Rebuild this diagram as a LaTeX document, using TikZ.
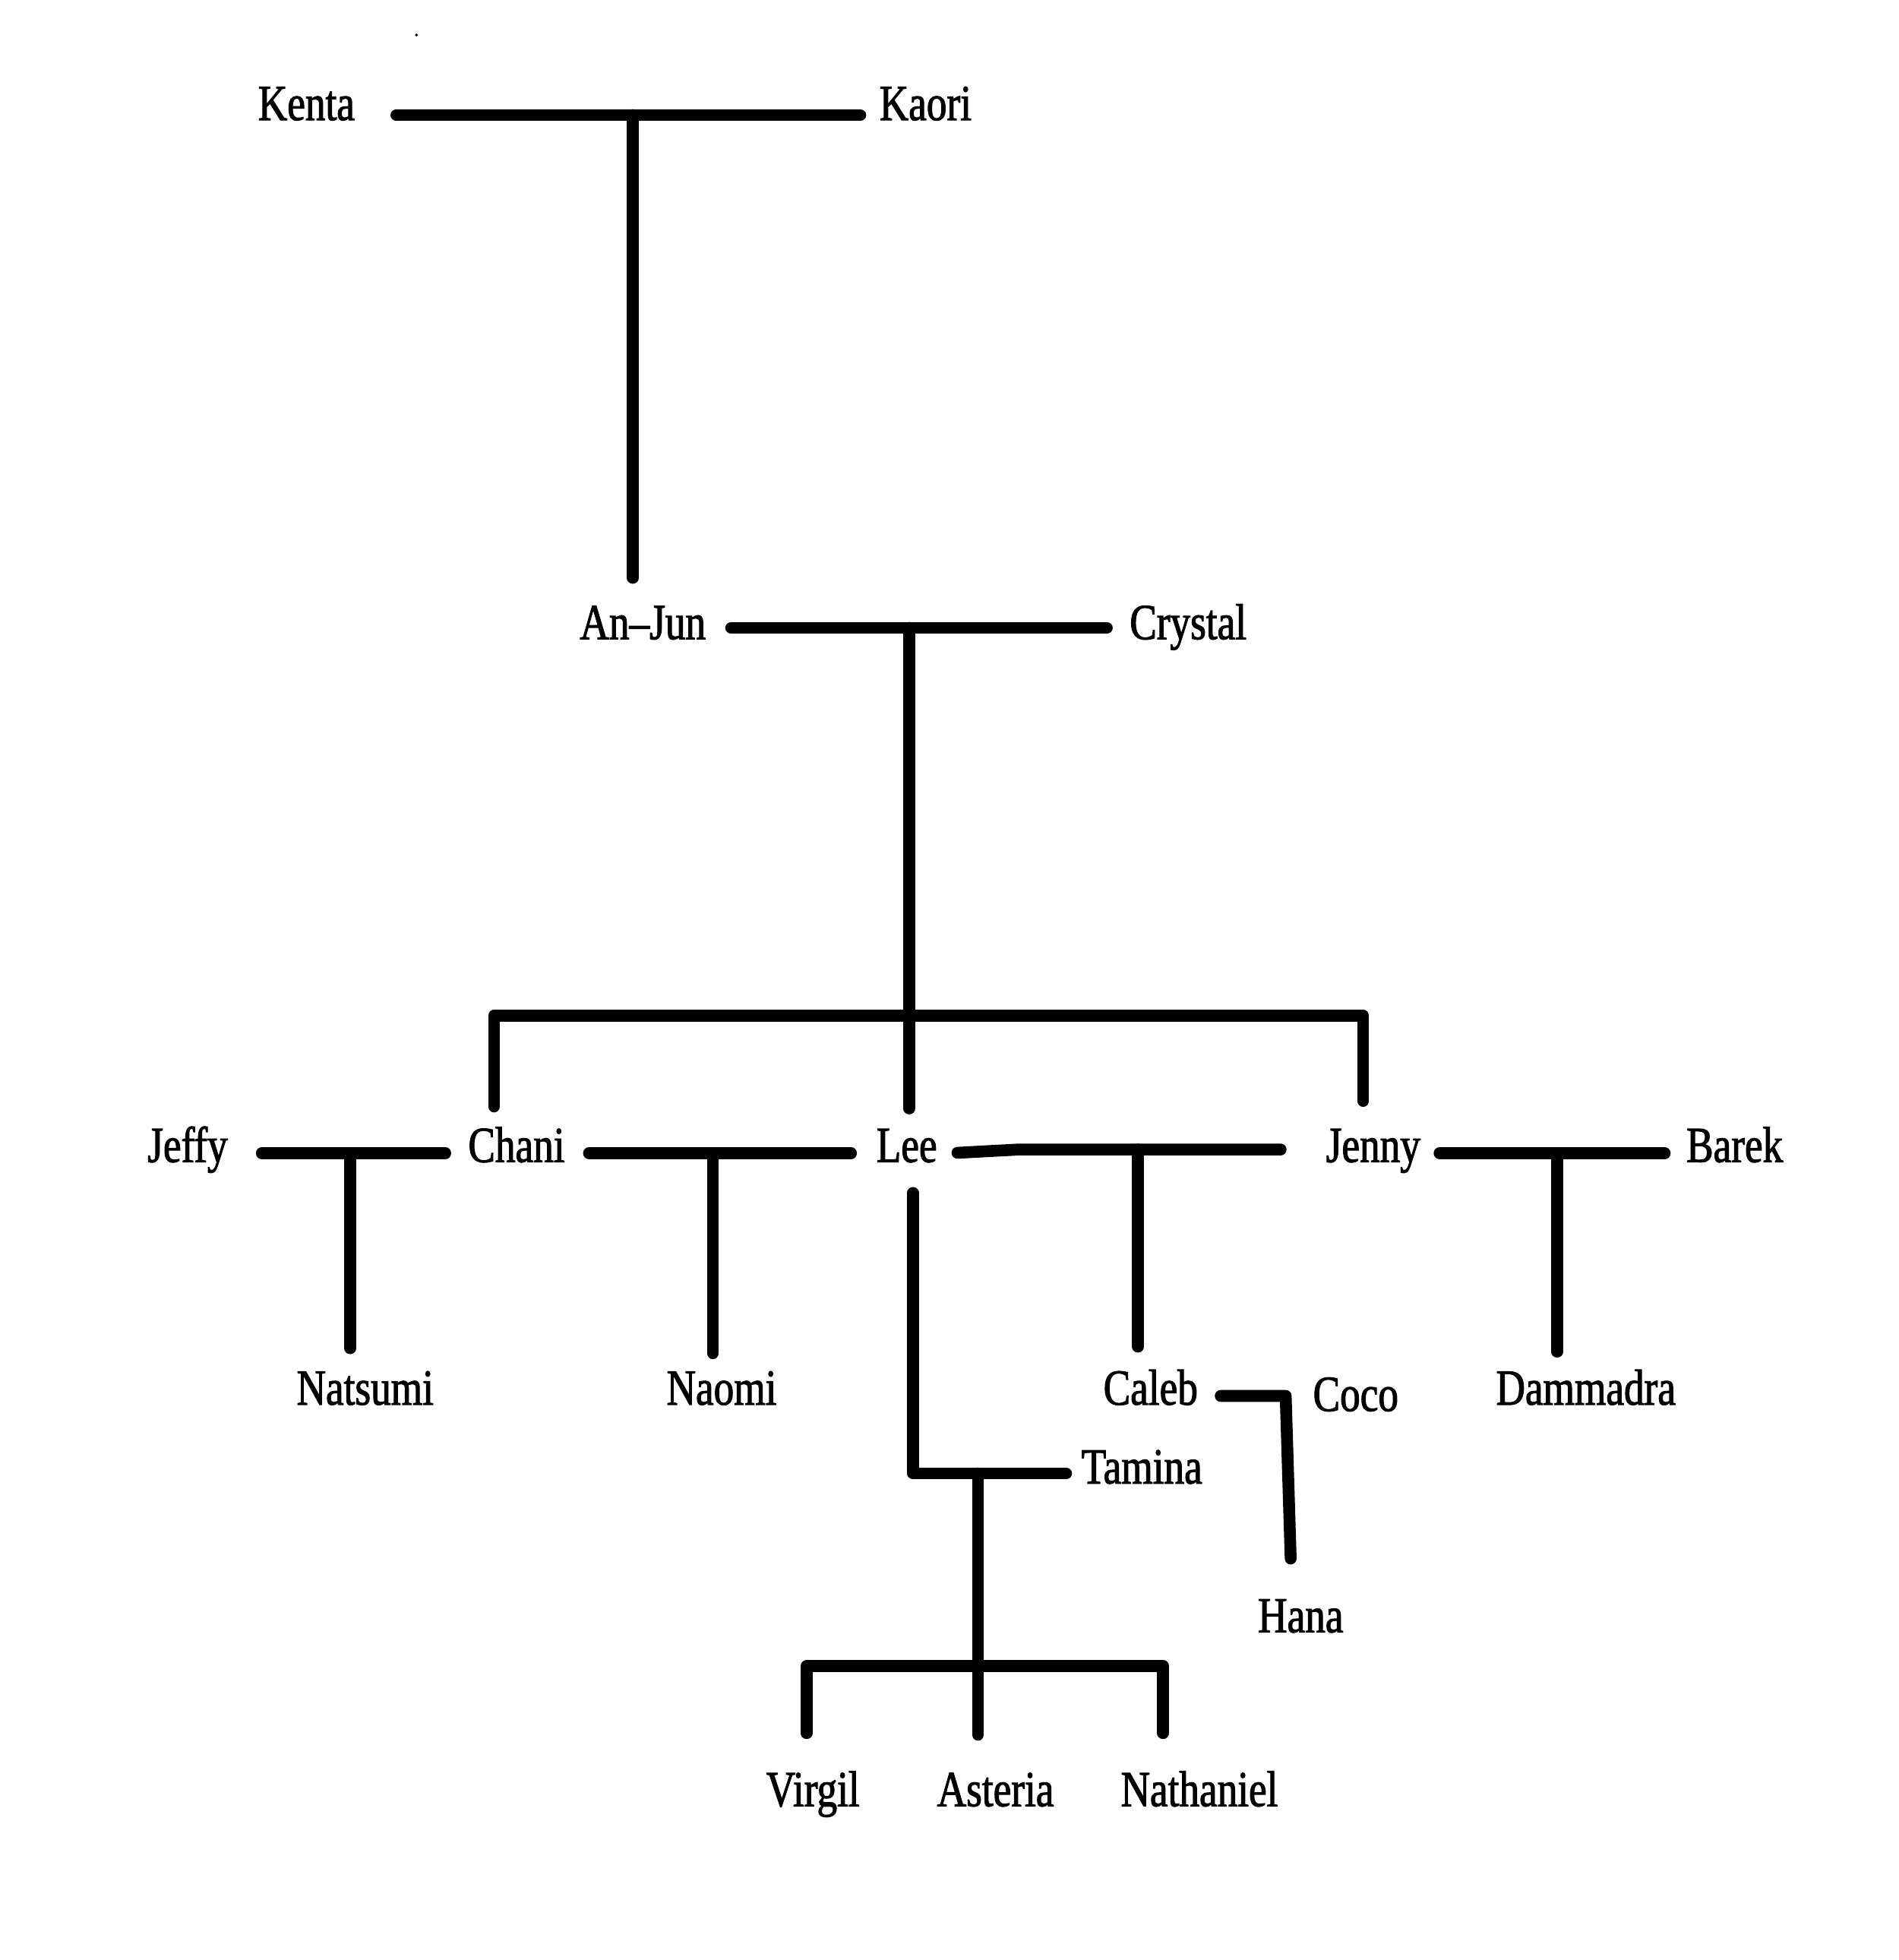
\documentclass[tikz,border=0pt]{standalone}
\usepackage{fontspec}
\newfontfamily\namefont[FakeStretch=0.8,FakeBold=1.6]{Liberation Serif}
\tikzset{
  person/.style={inner sep=0pt, anchor=base, font=\namefont\fontsize{23}{27}\selectfont},
  link/.style={line width=5.4pt, line cap=round, line join=round}
}
\begin{document}
\begin{tikzpicture}[x=0.02cm, y=-0.02cm]
  \useasboundingbox (0,0) rectangle (1518,1567);
  \fill (333,28) circle (1.2);
  \draw
    (245,96) node[person] (kenta){Kenta}
    (740,96) node[person] (kaori){Kaori}
    (514,511) node[person] (anjun){An–Jun}
    (950,511) node[person] (crystal){Crystal}
    (150,929) node[person] (jeffy){Jeffy}
    (413,929) node[person] (chani){Chani}
    (725,929) node[person] (lee){Lee}
    (1098,929) node[person] (jenny){Jenny}
    (1387,929) node[person] (barek){Barek}
    (292,1123) node[person] (natsumi){Natsumi}
    (577,1123) node[person] (naomi){Naomi}
    (920,1123) node[person] (caleb){Caleb}
    (1084,1128) node[person] (coco){Coco}
    (1268,1123) node[person] (dammadra){Dammadra}
    (913,1186) node[person] (tamina){Tamina}
    (1040,1305) node[person] (hana){Hana}
    (650,1444) node[person] (virgil){Virgil}
    (796,1444) node[person] (asteria){Asteria}
    (959,1444) node[person] (nathaniel){Nathaniel};
  % junctions
  \coordinate (kk) at (506,92);
  \coordinate (ac) at (727,502);
  \coordinate (sib) at (727,812);
  \coordinate (sibL) at (395,812);
  \coordinate (sibR) at (1090,812);
  \coordinate (jc) at (280,922);
  \coordinate (cl) at (570,922);
  \coordinate (lj) at (910,919);
  \coordinate (ljk) at (815,919);
  \coordinate (jb) at (1245,922);
  \coordinate (cc) at (1028,1116);
  \coordinate (hanaup) at (1032,1246);
  \coordinate (lt) at (730,1178);
  \coordinate (lt2) at (782,1178);
  \coordinate (kids) at (782,1332);
  \coordinate (kidsL) at (645,1332);
  \coordinate (kidsR) at (930,1332);
  \begin{scope}[link]
    % couples
    \draw[shorten <=0.66cm, shorten >=0.3cm] (kenta.east |- kk) to (kaori.west |- kk);
    \draw[shorten <=0.4cm, shorten >=0.36cm] (anjun.east |- ac) to (crystal.west |- ac);
    \draw[shorten <=0.54cm, shorten >=0.36cm] (jeffy.east |- jc) to (chani.west |- jc);
    \draw[shorten <=0.38cm, shorten >=0.4cm] (chani.east |- cl) to (lee.west |- cl);
    \draw[shorten <=0.32cm, shorten >=0.72cm] ([yshift=-0.07cm]lee.east |- lj) -- (ljk) -- (jenny.west |- lj);
    \draw[shorten <=0.3cm, shorten >=0.34cm] (jenny.east |- jb) to (barek.west |- jb);
    \draw[shorten <=0.36cm] (caleb.east |- cc) -- (cc) -- (hanaup);
    \draw[shorten <=0.48cm, shorten >=0.24cm] (lt |- lee.south) -- (lt) -- (tamina.west |- lt);
    % children
    \draw[shorten >=0.44cm] (kk) to (kk |- anjun.north);
    \draw (ac) to (sib);
    \draw[shorten <=0.32cm, shorten >=0.44cm] (sibL |- chani.north) -- (sibL) -- (sibR) -- (sibR |- jenny.north);
    \draw[shorten >=0.32cm] (sib) to (sib |- lee.north);
    \draw[shorten >=0.36cm] (jc) to (jc |- natsumi.north);
    \draw[shorten >=0.28cm] (cl) to (cl |- naomi.north);
    \draw[shorten >=0.36cm] (lj) to (lj |- caleb.north);
    \draw[shorten >=0.28cm] (jb) to (jb |- dammadra.north);
    \draw[shorten >=0.6cm] (lt2) -- (kids) -- (kids |- asteria.north);
    \draw[shorten <=0.6cm, shorten >=0.6cm] (kidsL |- virgil.north) -- (kidsL) -- (kidsR) -- (kidsR |- nathaniel.north);
  \end{scope}
\end{tikzpicture}
\end{document}
